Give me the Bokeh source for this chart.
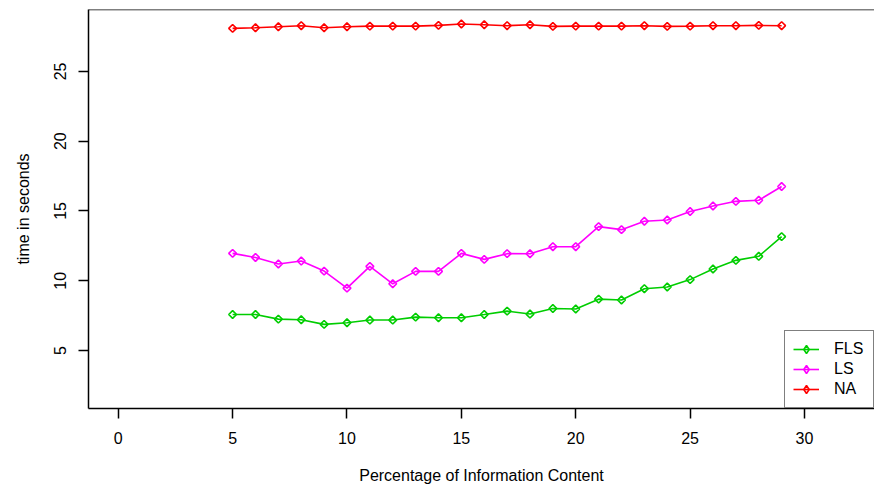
import math
from bokeh.plotting import figure
from bokeh.models import FixedTicker, Span, Legend, LegendItem, Range1d
from bokeh.embed import file_html
from bokeh.resources import INLINE

pct = [5, 6, 7, 8, 9, 10, 11, 12, 13, 14, 15, 16, 17, 18, 19, 20, 21, 22, 23, 24, 25, 26, 27, 28, 29]
fls = [7.58, 7.58, 7.25, 7.2, 6.87, 6.99, 7.18, 7.18, 7.39, 7.35, 7.35, 7.58, 7.82, 7.61, 8.01, 7.97,
       8.68, 8.62, 9.43, 9.55, 10.08, 10.84, 11.46, 11.75, 13.16]
ls = [11.96, 11.67, 11.2, 11.41, 10.69, 9.47, 11.03, 9.78, 10.67, 10.67, 11.96, 11.53, 11.94, 11.93,
      12.44, 12.44, 13.88, 13.66, 14.26, 14.35, 14.96, 15.36, 15.69, 15.77, 16.75]
na = [28.09, 28.13, 28.2, 28.28, 28.13, 28.2, 28.25, 28.25, 28.25, 28.3, 28.4, 28.35, 28.28, 28.35,
      28.23, 28.25, 28.25, 28.25, 28.28, 28.23, 28.25, 28.28, 28.28, 28.3, 28.28]
series_names = ["FLS", "LS", "NA"]
series_colors = ["#00CD00", "#FF00FF", "#FF0000"]
x_ticks = [0, 5, 10, 15, 20, 25, 30]
y_ticks = [5, 10, 15, 20, 25]

FONT = "Liberation Sans"
FS = "16px"
Y0, Y1 = 0.842, 29.44

p = figure(width=874, height=486, output_backend="svg", toolbar_location=None,
           x_range=Range1d(-1.30, 33.06), y_range=Range1d(Y0, Y1),
           min_border_left=88, min_border_right=0, min_border_top=9, min_border_bottom=78)
p.background_fill_color = "white"
p.border_fill_color = "white"
p.outline_line_color = None
p.grid.visible = False

for ax in (p.xaxis[0], p.yaxis[0]):
    ax.axis_line_color = "black"
    ax.axis_line_width = 1.5
    ax.major_tick_line_color = "black"
    ax.major_tick_line_width = 1.5
    ax.major_tick_out = 10
    ax.major_tick_in = 0
    ax.minor_tick_line_color = None
    ax.major_label_text_font = FONT
    ax.major_label_text_font_size = FS
    ax.major_label_text_color = "black"
    ax.axis_label_text_font = FONT
    ax.axis_label_text_font_size = FS
    ax.axis_label_text_font_style = "normal"
    ax.axis_label_text_color = "black"

p.xaxis[0].ticker = FixedTicker(ticks=x_ticks)
p.yaxis[0].ticker = FixedTicker(ticks=y_ticks)
p.xaxis[0].axis_label = "Percentage of Information Content"
p.yaxis[0].axis_label = "time in seconds"
p.xaxis[0].major_label_standoff = 13
p.xaxis[0].axis_label_standoff = 20
p.yaxis[0].major_label_standoff = 12
p.yaxis[0].axis_label_standoff = 20
p.yaxis[0].major_label_orientation = "vertical"

p.add_layout(Span(location=Y1, dimension="width", line_color="black", line_width=1.5))

items = []
for name, ys, col in zip(series_names, [fls, ls, na], series_colors):
    r1 = p.line(pct, ys, line_color=col, line_width=1.6)
    p.scatter(pct, ys, marker="square", angle=math.pi / 4, size=5.5,
              line_color=col, line_width=1.6, fill_color=None)
    # hidden twin used only to give the legend an upright diamond symbol
    r3 = p.scatter(pct, ys, marker="diamond", size=8, line_color=col,
                   line_width=1.6, fill_color=None, visible=False)
    items.append(LegendItem(label=name, renderers=[r1, r3]))

legend = Legend(items=items, location="bottom_right", margin=0, padding=8,
                spacing=0, glyph_width=26, glyph_height=20, label_height=20,
                label_width=31, label_standoff=15,
                label_text_font=FONT, label_text_font_size=FS, label_text_color="black",
                border_line_color="black", border_line_width=1.5,
                background_fill_color="white", background_fill_alpha=1.0,
                inactive_fill_alpha=0.0)
p.add_layout(legend)

open("out.html", "w").write(file_html(p, INLINE))
